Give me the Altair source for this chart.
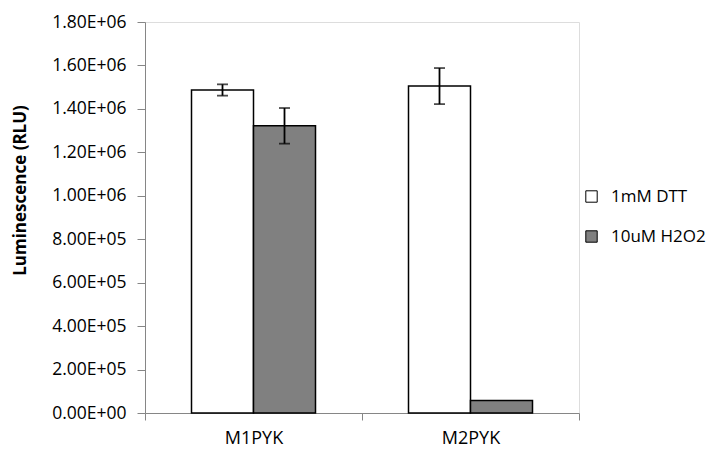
import altair as alt
import pandas as pd

categories = ["M1PYK", "M2PYK"]
series = ["1mM DTT", "10uM H2O2"]
dtt_values = [1.487e6, 1.505e6]
h2o2_values = [1.322e6, 5.7e4]
dtt_errors = [2.6e4, 8.3e4]
h2o2_errors = [8.2e4, 0.0]
y_ticks = [0, 2e5, 4e5, 6e5, 8e5, 1e6, 1.2e6, 1.4e6, 1.6e6, 1.8e6]
colors = ["#ffffff", "#808080"]

rows = []
for i, c in enumerate(categories):
    for s, vals, errs in ((series[0], dtt_values, dtt_errors), (series[1], h2o2_values, h2o2_errors)):
        rows.append(dict(cat=c, series=s, value=vals[i], err=errs[i],
                         lo=vals[i] - errs[i], hi=vals[i] + errs[i]))
df = pd.DataFrame(rows)

FONT = "Open Sans"
W, H = 434, 391

label_expr = ("datum.value >= 1e6 ? format(datum.value/1e6, '.2f') + 'E+06' : "
              "datum.value >= 1e5 ? format(datum.value/1e5, '.2f') + 'E+05' : '0.00E+00'")

x_enc = alt.X("cat:N", sort=categories,
              scale=alt.Scale(paddingInner=0, paddingOuter=0),
              axis=alt.Axis(title=None, labelAngle=0, tickBand="extent", grid=False,
                            domainColor="#868686", tickColor="#868686", tickSize=7,
                            labelPadding=9, labelFont=FONT, labelFontSize=18,
                            labelColor="#000000"))
xo_enc = alt.XOffset("series:N", sort=series,
                     scale=alt.Scale(domain=series, paddingInner=0, paddingOuter=0.75))
y_scale = alt.Scale(domain=[0, 1.8e6], nice=False)

base = alt.Chart(df)

bars = base.mark_bar(stroke="#000000", strokeWidth=1.5).encode(
    x=x_enc,
    xOffset=xo_enc,
    y=alt.Y("value:Q", scale=y_scale,
            axis=alt.Axis(title="Luminescence (RLU)", values=y_ticks, labelExpr=label_expr,
                          grid=False, domainColor="#868686", tickColor="#868686", tickSize=8,
                          labelPadding=11, labelFont=FONT, labelFontSize=17.5, labelColor="#000000",
                          titleFont=FONT, titleFontSize=17, titleFontWeight="bold",
                          titleColor="#000000", titlePadding=22, titleY=168)),
    fill=alt.Fill("series:N", sort=series,
                  scale=alt.Scale(domain=series, range=colors),
                  legend=alt.Legend(title=None, orient="none", legendX=438, legendY=166,
                                    symbolType="square", symbolSize=130,
                                    symbolStrokeColor="#000000", symbolStrokeWidth=1,
                                    labelFont=FONT, labelFontSize=17, labelColor="#000000",
                                    rowPadding=22, labelOffset=11)),
)

eb = base.transform_filter("datum.err > 0")
rules = eb.mark_rule(color="#000000", strokeWidth=1.8).encode(
    x=x_enc, xOffset=xo_enc,
    y=alt.Y("lo:Q", scale=y_scale), y2="hi:Q")
cap_hi = eb.mark_tick(color="#000000", thickness=1.8, size=11).encode(
    x=x_enc, xOffset=xo_enc, y=alt.Y("hi:Q", scale=y_scale))
cap_lo = eb.mark_tick(color="#000000", thickness=1.8, size=11).encode(
    x=x_enc, xOffset=xo_enc, y=alt.Y("lo:Q", scale=y_scale))

chart = alt.layer(bars, rules, cap_hi, cap_lo).properties(
    width=W, height=H,
    autosize=alt.AutoSizeParams(type="none"),
    padding={"left": 137, "top": 14, "right": 133, "bottom": 36},
).configure_view(stroke=None).configure(background="#ffffff")

chart.save("out.html", embed_options={"renderer": "svg", "actions": False})
